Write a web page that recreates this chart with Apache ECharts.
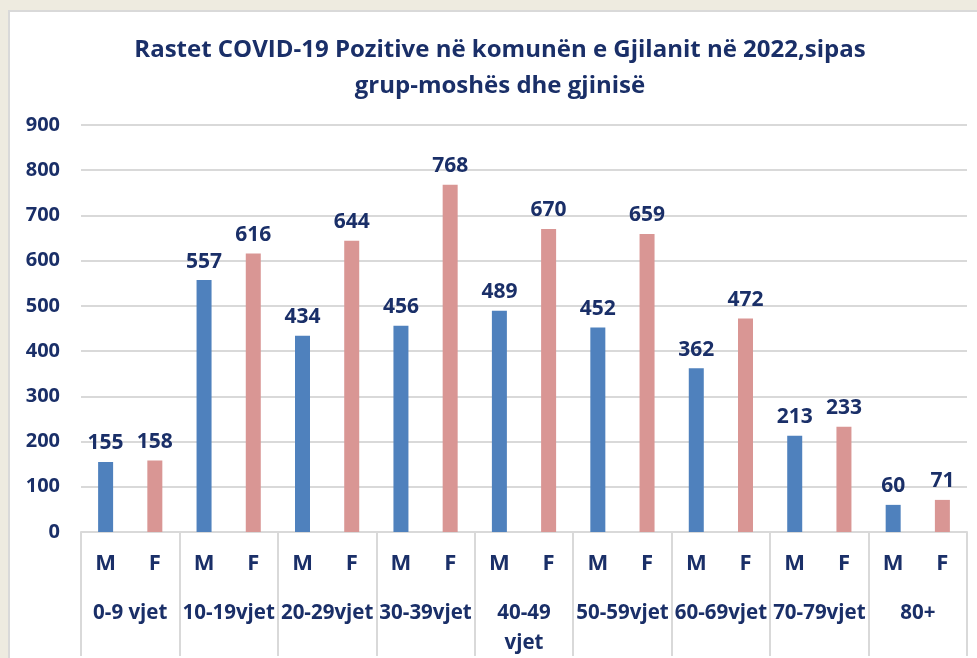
<!DOCTYPE html>
<html>
<head>
<meta charset="utf-8">
<script src="https://cdn.jsdelivr.net/npm/echarts@6/dist/echarts.min.js"></script>
<style>
  html, body { margin: 0; padding: 0; background: #EEEBE0; }
  #chart { width: 977px; height: 658px; }
</style>
</head>
<body>
<div id="chart"></div>
<script>
// Age groups and sex sub-categories
const ageGroups = ['0-9 vjet', '10-19vjet', '20-29vjet', '30-39vjet', '40-49\nvjet', '50-59vjet', '60-69vjet', '70-79vjet', '80+'];
const sexes = ['M', 'F'];
// Positive cases per age group
const maleCases = [155, 557, 434, 456, 489, 452, 362, 213, 60];
const femaleCases = [158, 616, 644, 768, 670, 659, 472, 233, 71];
const yTicks = [0, 100, 200, 300, 400, 500, 600, 700, 800, 900];

const titleText = 'Rastet COVID-19 Pozitive në komunën e Gjilanit në 2022,sipas\ngrup-moshës dhe gjinisë';

const navy = '#1A2F68';
const blue = '#4F81BD';
const pink = '#D99694';
const fontFam = '"Open Sans", "Liberation Sans", sans-serif';

// Flatten to one M/F category per bar
const subCats = [];
const barData = [];
ageGroups.forEach((g, i) => {
  subCats.push(sexes[0]);
  barData.push({ value: maleCases[i], itemStyle: { color: blue } });
  subCats.push(sexes[1]);
  barData.push({ value: femaleCases[i], itemStyle: { color: pink } });
});

const chart = echarts.init(document.getElementById('chart'));
chart.setOption({
  backgroundColor: '#EEEBE0',
  animation: false,
  graphic: [{
    type: 'rect',
    z: -10,
    shape: { x: 9, y: 11, width: 980, height: 660 },
    style: { fill: '#ffffff', stroke: '#D9D9D9', lineWidth: 2 }
  }],
  title: {
    text: titleText,
    left: 495,
    textAlign: 'center',
    top: 27,
    textStyle: {
      color: navy,
      fontFamily: fontFam,
      fontWeight: 'bold',
      fontSize: 24,
      lineHeight: 36
    }
  },
  grid: { left: 81, right: 10, top: 125, bottom: 124, containLabel: false },
  xAxis: [{
    type: 'category',
    data: subCats,
    axisLine: { lineStyle: { color: '#D9D9D9', width: 2 } },
    axisTick: { show: false },
    axisLabel: {
      interval: 0,
      margin: 21,
      color: navy,
      fontFamily: fontFam,
      fontWeight: 'bold',
      fontSize: 22
    }
  }, {
    type: 'category',
    data: ageGroups,
    position: 'bottom',
    axisLine: { show: false },
    axisTick: { show: true, length: 124, interval: 0, lineStyle: { color: '#D9D9D9', width: 2 } },
    axisLabel: {
      interval: 0,
      margin: 66,
      color: navy,
      fontFamily: fontFam,
      fontWeight: 'bold',
      fontSize: 20.5,
      lineHeight: 30
    }
  }],
  yAxis: {
    type: 'value',
    min: 0,
    max: 900,
    interval: 100,
    axisLine: { show: false },
    axisTick: { show: false },
    splitLine: { lineStyle: { color: '#D9D9D9', width: 2 } },
    axisLabel: {
      margin: 21,
      color: navy,
      fontFamily: fontFam,
      fontWeight: 'bold',
      fontSize: 20,
      formatter: v => (yTicks.includes(v) ? String(v) : '')
    }
  },
  series: [{
    type: 'bar',
    xAxisIndex: 0,
    data: barData,
    barWidth: 15,
    label: {
      show: true,
      position: 'top',
      distance: 8,
      color: navy,
      fontFamily: fontFam,
      fontWeight: 'bold',
      fontSize: 21
    }
  }]
});
</script>
</body>
</html>
